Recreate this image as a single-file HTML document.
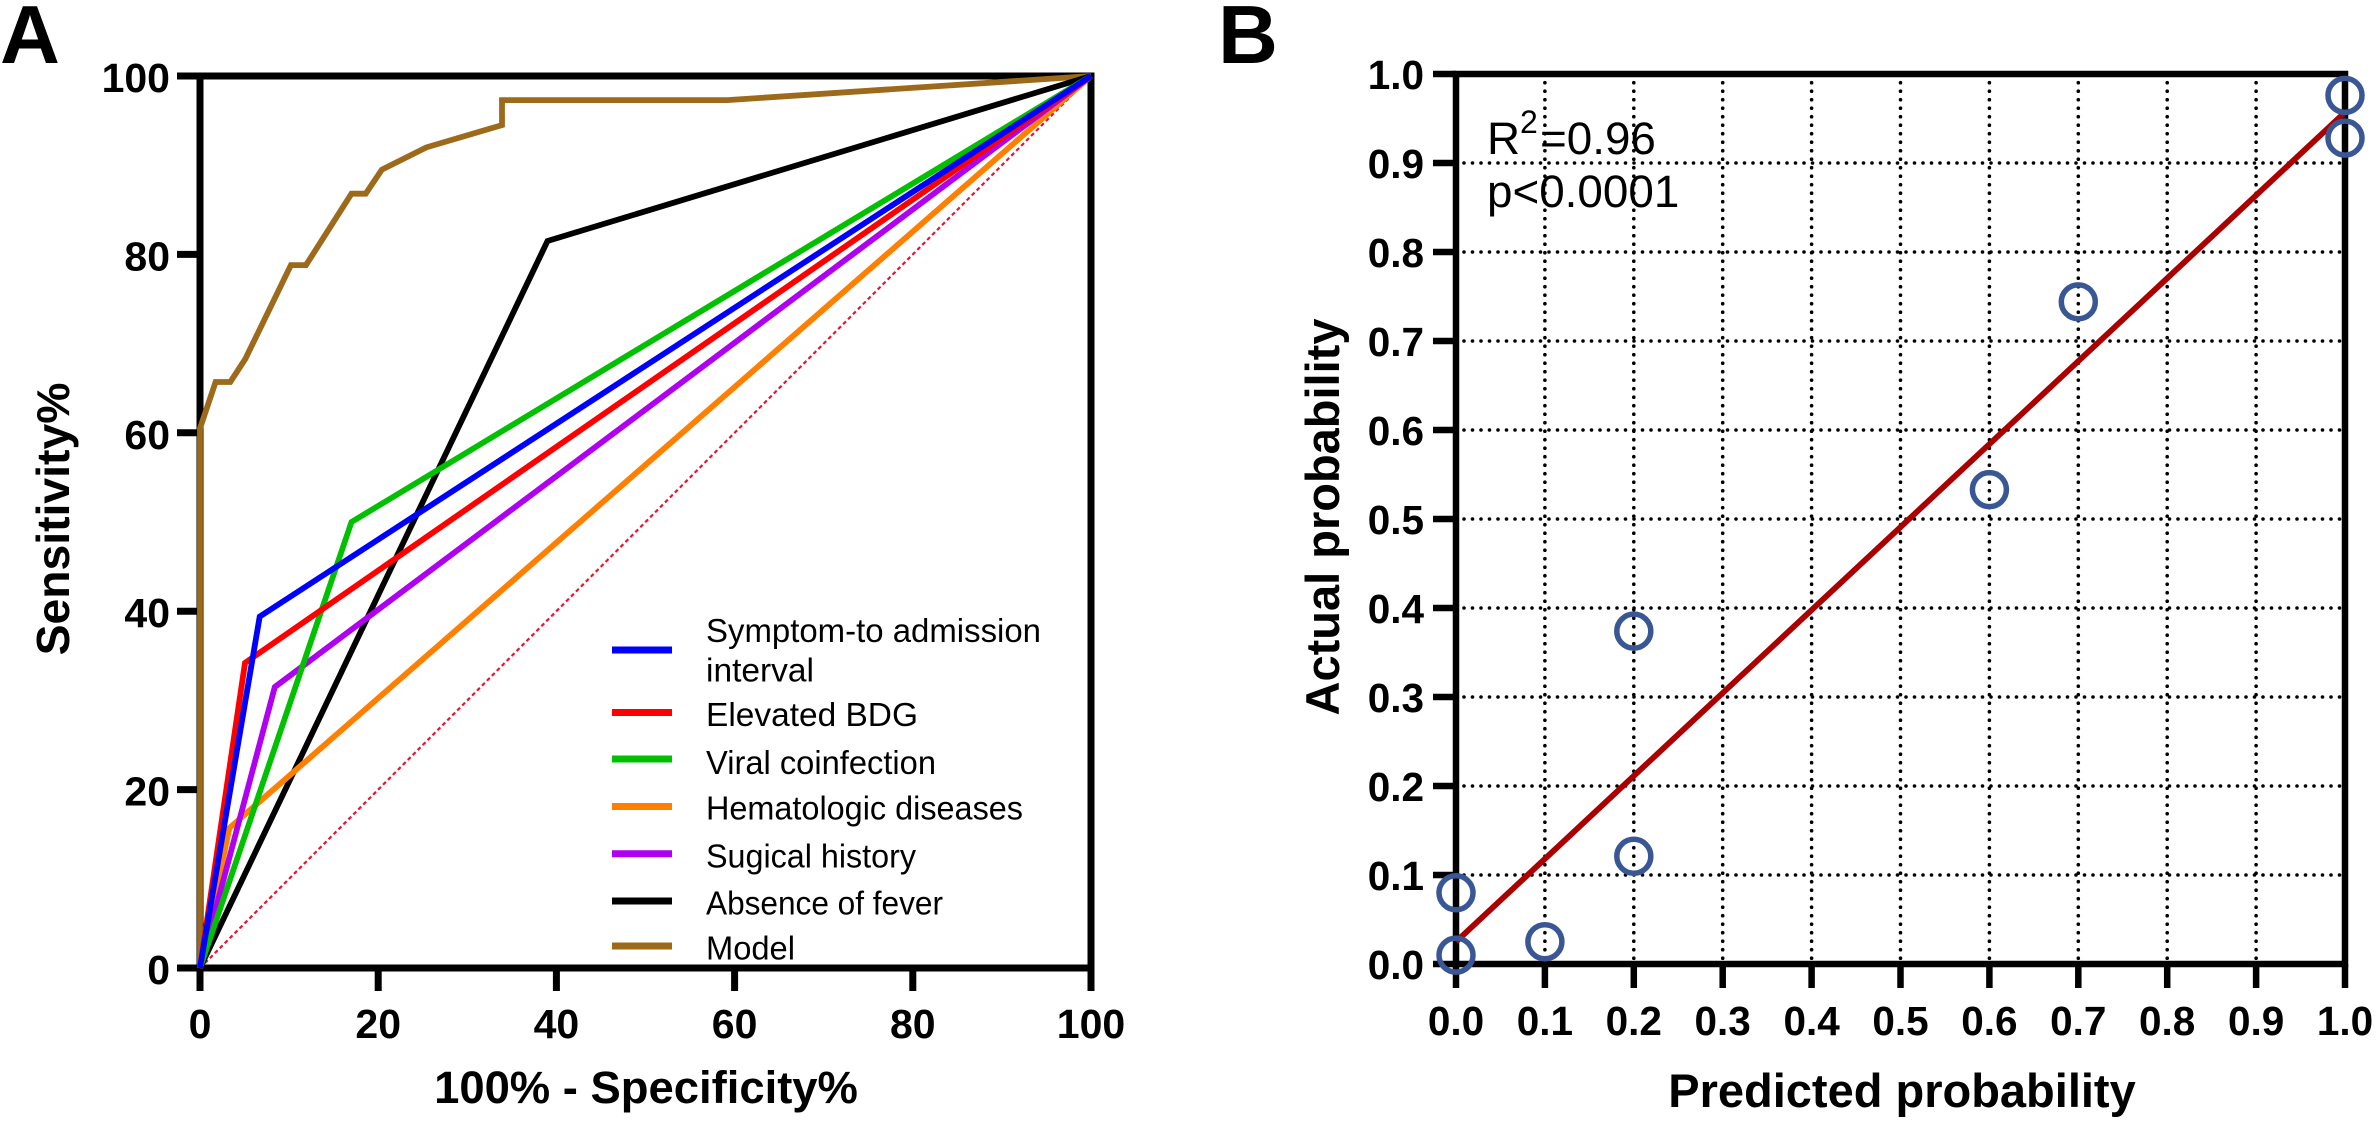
<!DOCTYPE html>
<html lang="en">
<head>
<meta charset="utf-8">
<title>ROC and calibration charts</title>
<style>
html,body{margin:0;padding:0;background:#fff;width:2377px;height:1121px;overflow:hidden}
svg{display:block}
text{font-family:"Liberation Sans",Arial,sans-serif;fill:#000}
.b{font-weight:700}
</style>
</head>
<body>
<svg id="fig" xmlns="http://www.w3.org/2000/svg" width="2377" height="1121" viewBox="0 0 2377 1121">
<text class="b" x="0" y="63" font-size="83">A</text>
<text class="b" x="1218" y="63" font-size="83">B</text>
<text class="b" x="646" y="1103" font-size="45.4" text-anchor="middle">100% - Specificity%</text>
<text class="b" transform="translate(69 519) rotate(-90)" font-size="46.3" text-anchor="middle">Sensitivity%</text>
<text class="b" x="1902" y="1107" font-size="47" text-anchor="middle">Predicted probability</text>
<text class="b" transform="translate(1339 517) rotate(-90)" font-size="47" text-anchor="middle">Actual probability</text>
<text x="1487" y="154" font-size="45.8">R<tspan x="1520" y="133" font-size="32">2</tspan><tspan x="1540" y="154">=0.96</tspan></text>
<text x="1487" y="207" font-size="45.8">p&lt;0.0001</text>
</svg>
<script>
const NS = 'http://www.w3.org/2000/svg';
const fig = document.getElementById('fig');

// ROC chart data
const rocTicks = [0, 20, 40, 60, 80, 100];
const modelX = [0, 0, 1.75, 3.4, 5.1, 10.2, 11.9, 17, 18.6, 20.4, 25.4, 33.9, 33.9, 59.2, 100];
const modelY = [0, 60.5, 65.7, 65.7, 68.3, 78.8, 78.8, 86.8, 86.8, 89.5, 92, 94.5, 97.3, 97.3, 100];
const feverX = [0, 39, 100];
const feverY = [0, 81.5, 100];
const hematologicX = [0, 3.3, 100];
const hematologicY = [0, 15.7, 100];
const surgicalX = [0, 8.4, 100];
const surgicalY = [0, 31.5, 100];
const viralX = [0, 17, 100];
const viralY = [0, 50, 100];
const bdgX = [0, 5.05, 100];
const bdgY = [0, 34.2, 100];
const intervalX = [0, 6.7, 100];
const intervalY = [0, 39.4, 100];
const referenceX = [0, 100];
const referenceY = [0, 100];

// Calibration chart data
const calTicks = [0, 0.1, 0.2, 0.3, 0.4, 0.5, 0.6, 0.7, 0.8, 0.9, 1];
const calGrid = [0.1, 0.2, 0.3, 0.4, 0.5, 0.6, 0.7, 0.8, 0.9];
const pointsPredicted = [0, 0, 0.1, 0.2, 0.2, 0.6, 0.7, 1, 1];
const pointsActual = [0.01, 0.08, 0.025, 0.121, 0.374, 0.533, 0.744, 0.928, 0.976];
const fitX = [0, 1];
const fitY = [0.025, 0.957];

function xA(v) { return 200 + v * 8.91; }
function yA(v) { return 968 - v * 8.92; }
function xB(v) { return 1456 + v * 889; }
function yB(v) { return 964 - v * 890; }

function add(tag, attrs, parent) {
  const el = document.createElementNS(NS, tag);
  for (const k in attrs) el.setAttribute(k, attrs[k]);
  (parent || fig).appendChild(el);
  return el;
}
function pts(xs, ys, fx, fy) {
  return xs.map((x, i) => fx(x).toFixed(1) + ',' + fy(ys[i]).toFixed(1)).join(' ');
}
function group(name) {
  const g = add('g', {});
  
  
  return g;
}

/* ---------- ROC panel ---------- */
const rocAxes = group('roc-axes');
const rocFrame = add('rect', { x: xA(0), y: yA(100), width: xA(100) - xA(0), height: yA(0) - yA(100), fill: 'none', stroke: '#000', 'stroke-width': 7 }, rocAxes);



rocTicks.forEach(t => {
  const tx = add('line', { x1: xA(t), x2: xA(t), y1: yA(0), y2: 991, stroke: '#000', 'stroke-width': 7 }, rocAxes);
  
  
  const lx = add('text', { x: xA(t), y: 1038, 'font-size': 41, 'text-anchor': 'middle', 'class': 'b' }, rocAxes);
  lx.textContent = t;
  
  
  const ty = add('line', { x1: 177, x2: xA(0), y1: yA(t), y2: yA(t), stroke: '#000', 'stroke-width': 7 }, rocAxes);
  
  
  const ly = add('text', { x: 170, y: yA(t) + 16, 'font-size': 41, 'text-anchor': 'end', 'class': 'b' }, rocAxes);
  ly.textContent = t;
  
  
});

const refLine = add('polyline', { points: pts(referenceX, referenceY, xA, yA), fill: 'none', stroke: '#e8132f', 'stroke-width': 2.2, 'stroke-dasharray': '4 3' });



function rocLine(xs, ys, color, name) {
  const l = add('polyline', { points: pts(xs, ys, xA, yA), fill: 'none', stroke: color, 'stroke-width': 5.8, 'stroke-linejoin': 'miter' });
  
  
}
rocLine(modelX, modelY, '#9c6a1a', 'roc-line-model');
rocLine(feverX, feverY, '#000000', 'roc-line-absence-of-fever');
rocLine(hematologicX, hematologicY, '#ff8000', 'roc-line-hematologic-diseases');
rocLine(surgicalX, surgicalY, '#b000f0', 'roc-line-surgical-history');
rocLine(viralX, viralY, '#00c000', 'roc-line-viral-coinfection');
rocLine(bdgX, bdgY, '#ff0000', 'roc-line-elevated-bdg');
rocLine(intervalX, intervalY, '#0000ff', 'roc-line-symptom-interval');

/* ---------- ROC legend ---------- */
const legendLabels = ['Symptom-to admission', 'Elevated BDG', 'Viral coinfection', 'Hematologic diseases', 'Sugical history', 'Absence of fever', 'Model'];
const legendColors = ['#0000ff', '#ff0000', '#00c000', '#ff8000', '#b000f0', '#000000', '#9c6a1a'];
const legendKeyY = [650, 712.5, 759, 806.5, 853.7, 901, 946];
const legendTextY = [642, 726, 774, 819.6, 867.4, 914.6, 959.7];
const legendTextWidth = [335, 212, 230, 317, 210, 237, 89];
const legend = group('roc-legend');
legendLabels.forEach((label, i) => {
  const k = add('line', { x1: 612, x2: 672, y1: legendKeyY[i], y2: legendKeyY[i], stroke: legendColors[i], 'stroke-width': 7 }, legend);
  
  
  const t = add('text', { x: 706, y: legendTextY[i], 'font-size': 33, textLength: legendTextWidth[i], lengthAdjust: 'spacingAndGlyphs' }, legend);
  t.textContent = label;
  
  
});
const legendWrap = add('text', { x: 706, y: 681.5, 'font-size': 33, textLength: 108, lengthAdjust: 'spacingAndGlyphs' }, legend);
legendWrap.textContent = 'interval';



/* ---------- Calibration panel ---------- */
const calGridG = group('calibration-grid');
calGrid.forEach(g => {
  const gv = add('line', { x1: xB(g), x2: xB(g), y1: 82.7, y2: 960, stroke: '#000', 'stroke-width': 3.6, 'stroke-linecap': 'round', 'stroke-dasharray': '0 8.5' }, calGridG);
  
  
  const gh = add('line', { x1: 1464, x2: 2340, y1: yB(g), y2: yB(g), stroke: '#000', 'stroke-width': 3.6, 'stroke-linecap': 'round', 'stroke-dasharray': '0 8.5' }, calGridG);
  
  
});

const calAxes = group('calibration-axes');
const calFrame = add('rect', { x: xB(0), y: yB(1), width: xB(1) - xB(0), height: yB(0) - yB(1), fill: 'none', stroke: '#000', 'stroke-width': 6.5 }, calAxes);



calTicks.forEach(t => {
  const txt = t.toFixed(1);
  const tx = add('line', { x1: xB(t), x2: xB(t), y1: yB(0), y2: 988, stroke: '#000', 'stroke-width': 6.5 }, calAxes);
  
  
  const lx = add('text', { x: xB(t), y: 1035, 'font-size': 40.5, 'text-anchor': 'middle', 'class': 'b' }, calAxes);
  lx.textContent = txt;
  
  
  const ty = add('line', { x1: 1433, x2: xB(0), y1: yB(t), y2: yB(t), stroke: '#000', 'stroke-width': 6.5 }, calAxes);
  
  
  const ly = add('text', { x: 1424, y: yB(t) + 15, 'font-size': 40.5, 'text-anchor': 'end', 'class': 'b' }, calAxes);
  ly.textContent = txt;
  
  
});

const fit = add('polyline', { points: pts(fitX, fitY, xB, yB), fill: 'none', stroke: '#aa0000', 'stroke-width': 5.8 });



pointsPredicted.forEach((p, i) => {
  const c = add('circle', { cx: xB(p), cy: yB(pointsActual[i]), r: 17, fill: 'none', stroke: '#3a5795', 'stroke-width': 5.5 });
  
  
});
</script>
</body>
</html>
